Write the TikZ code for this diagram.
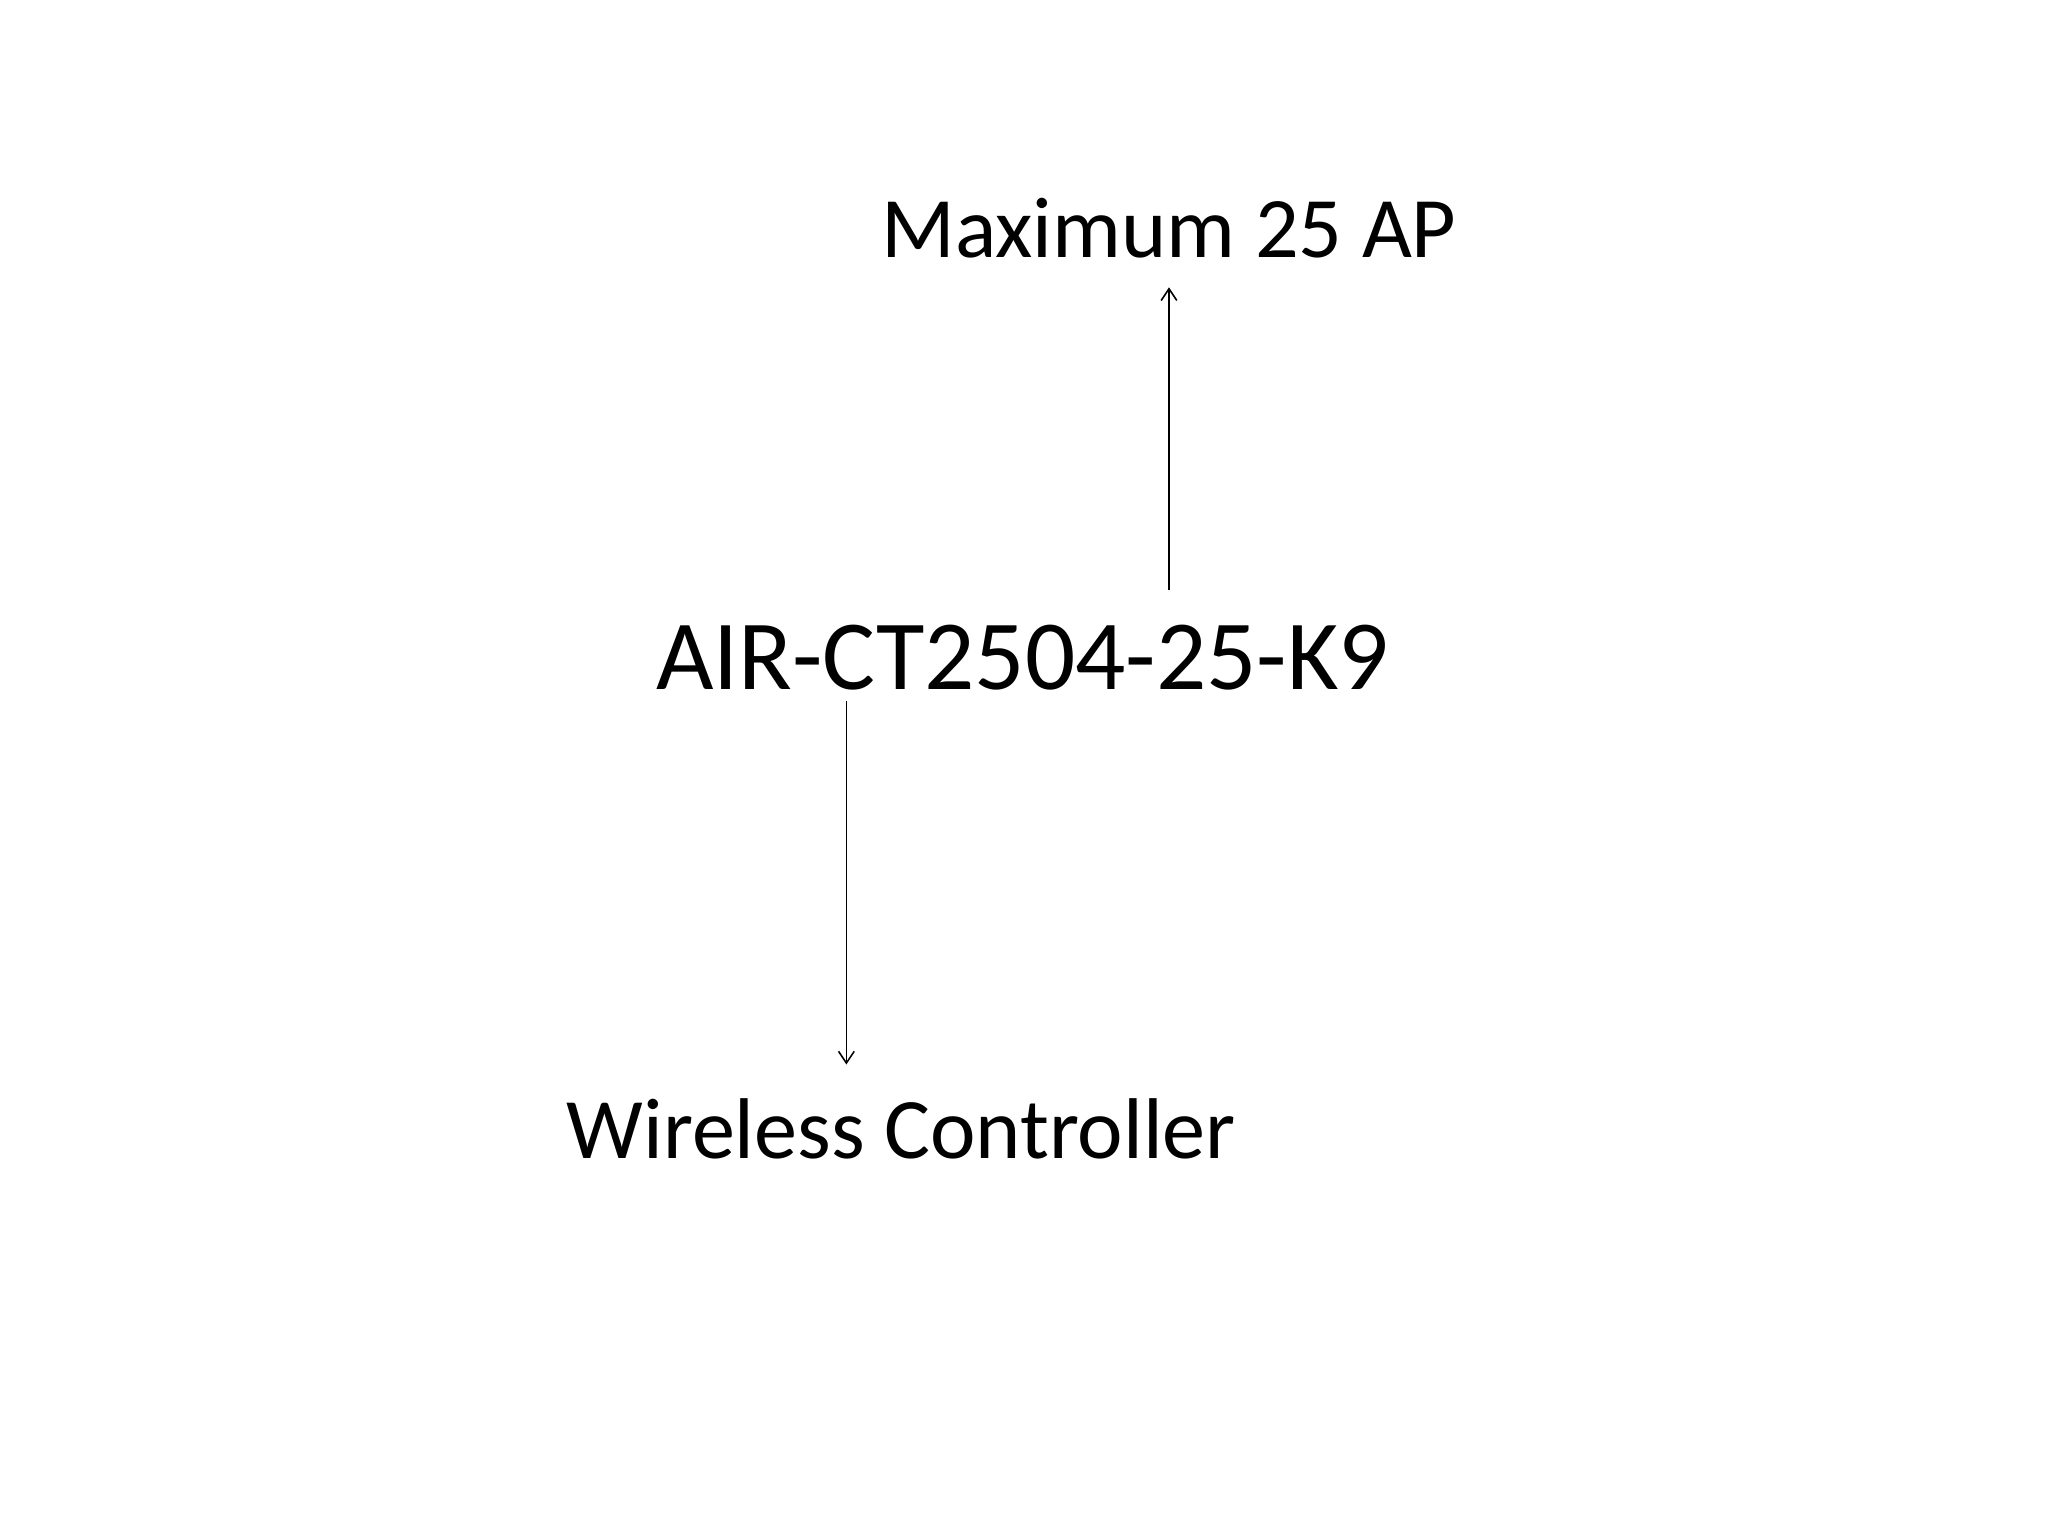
\documentclass[tikz,border=0pt]{standalone}
\usepackage{fontspec}
\setmainfont{Carlito}
\usetikzlibrary{arrows.meta}
\begin{document}
\begin{tikzpicture}[x=1pt,y=-1pt,
  lbl/.style={inner sep=0pt,anchor=base},
  conn/.style={line width=1.2pt,-{Straight Barb[length=9pt,width=12pt,line width=1.2pt]}}]
\useasboundingbox (0,0) rectangle (1568,1176);
\node[lbl,font=\fontsize{66}{70}\selectfont] (max) at (895,197) {Maximum 25 AP};
\node[lbl,font=\fontsize{76}{80}\selectfont] (air) at (783,528) {AIR-CT2504-25-K9};
\node[lbl,font=\fontsize{66}{70}\selectfont] (wc) at (690,887) {Wireless Controller};
\coordinate (a1) at (895,452);
\coordinate (a2) at (895,220);
\coordinate (b1) at (648,537);
\coordinate (b2) at (648,815);
\draw[conn] (a1) -- (a2);
\draw[conn] (b1) -- (b2);
\end{tikzpicture}
\end{document}
